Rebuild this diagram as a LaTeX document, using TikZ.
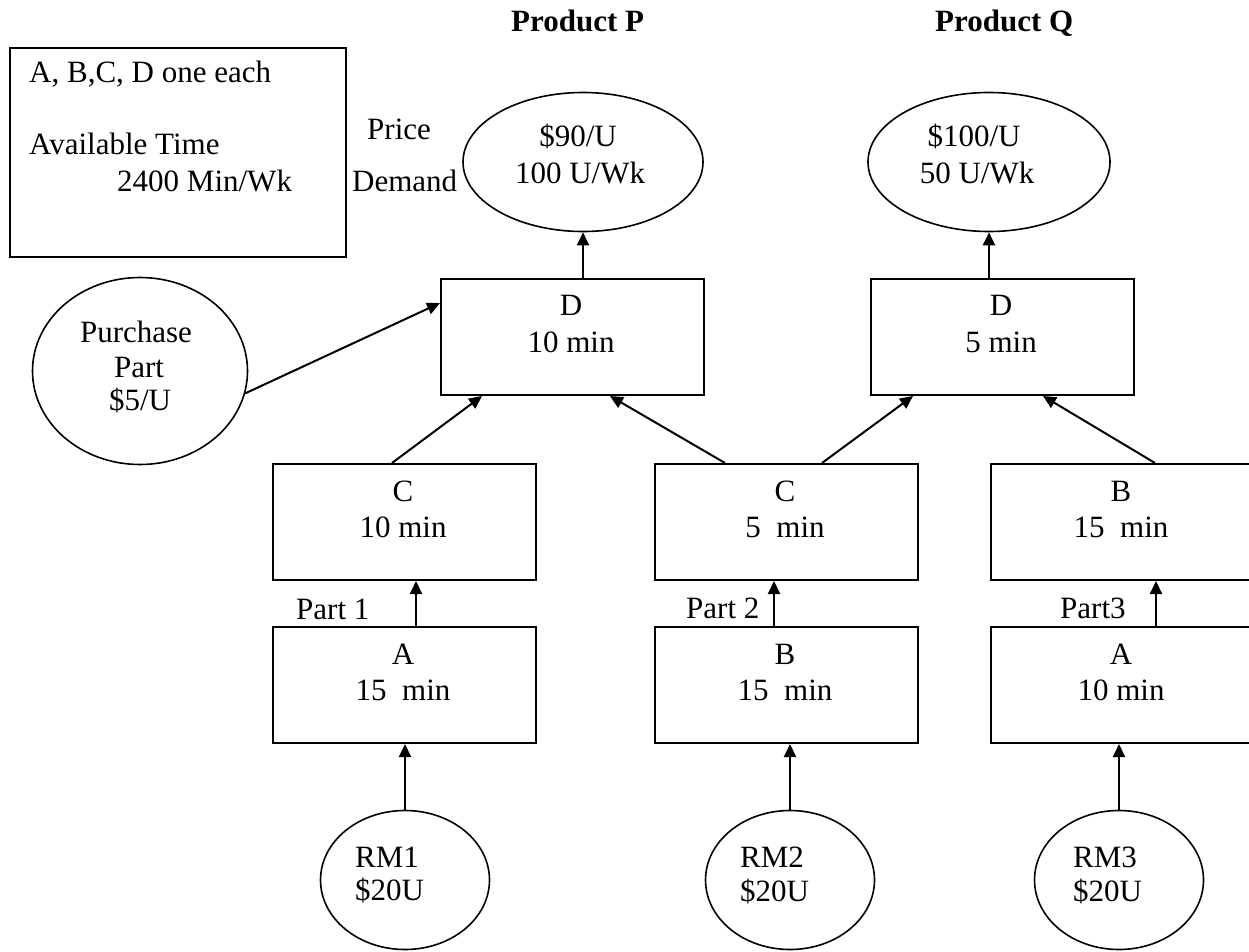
\documentclass[tikz,border=0pt]{standalone}
\usepackage{fontspec}
\setmainfont{Liberation Serif}
\usetikzlibrary{arrows.meta,shapes.geometric,calc}
\begin{document}
\begin{tikzpicture}[x=1pt,y=-1pt,
  box/.style={draw, line width=2pt, rectangle, minimum width=263pt, minimum height=116pt, inner sep=0pt, anchor=north west},
  oval/.style={draw, line width=1.6pt, ellipse, inner sep=0pt},
  txt/.style={anchor=base, inner sep=0pt, font=\fontsize{31}{36}\selectfont},
  ltxt/.style={anchor=base west, inner sep=0pt, font=\fontsize{31}{36}\selectfont},
  btxt/.style={anchor=base west, inner sep=0pt, font=\fontsize{31}{36}\selectfont\bfseries},
  arr/.style={line width=2pt, -{Triangle[length=13pt,width=12pt]}},
]
\useasboundingbox (0,0) rectangle (1249,952);
\path[clip] (0,0) rectangle (1249,952);

% titles
\node[btxt] (tP) at (511,32) {Product P};
\node[btxt] (tQ) at (935,32) {Product Q};

% info box
\node[draw, line width=2pt, rectangle, minimum width=336pt, minimum height=209pt, inner sep=0pt, anchor=north west] (info) at (9,47) {};
\node[ltxt] (i1) at (29,83) {A, B,C, D one each};
\node[ltxt] (i2) at (29,155) {Available Time};
\node[ltxt] (i3) at (117,192) {2400 Min/Wk};
\node[ltxt] (price) at (367,140) {Price};
\node[ltxt] (demand) at (352,192) {Demand};

% ellipses
\node[oval, minimum width=240pt, minimum height=139pt] (eP) at (583,162) {};
\node[txt] (eP1) at (578,147) {\$90/U};
\node[txt] (eP2) at (580,184) {100 U/Wk};
\node[oval, minimum width=242pt, minimum height=139pt] (eQ) at (989,162) {};
\node[txt] (eQ1) at (974,147) {\$100/U};
\node[txt] (eQ2) at (977,184) {50 U/Wk};
\node[oval, minimum width=215pt, minimum height=187pt] (pur) at (140,371) {};
\node[txt] (pur1) at (136,342) {Purchase};
\node[txt] (pur2) at (139,377) {Part};
\node[txt] (pur3) at (140,410) {\$5/U};
\node[oval, minimum width=169pt, minimum height=139pt] (rm1) at (405,880) {};
\node[ltxt] (rm1a) at (355,867) {RM1};
\node[ltxt] (rm1b) at (355,900) {\$20U};
\node[oval, minimum width=169pt, minimum height=139pt] (rm2) at (790,880) {};
\node[ltxt] (rm2a) at (740,867) {RM2};
\node[ltxt] (rm2b) at (740,901) {\$20U};
\node[oval, minimum width=169pt, minimum height=139pt] (rm3) at (1119,880) {};
\node[ltxt] (rm3a) at (1073,867) {RM3};
\node[ltxt] (rm3b) at (1073,901) {\$20U};

% boxes
\node[box] (dP) at (440,278) {};
\node[txt] (dP1) at (571,315) {D};
\node[txt] (dP2) at (571,352) {10 min};
\node[box] (dQ) at (870,278) {};
\node[txt] (dQ1) at (1001,315) {D};
\node[txt] (dQ2) at (1001,352) {5 min};
\node[box] (c1) at (272,463) {};
\node[txt] (c1a) at (403,501) {C};
\node[txt] (c1b) at (403,537) {10 min};
\node[box] (c2) at (654,463) {};
\node[txt] (c2a) at (785,501) {C};
\node[txt] (c2b) at (785,537) {5\ \ min};
\node[box] (bQ) at (990,463) {};
\node[txt] (bQa) at (1121,501) {B};
\node[txt] (bQb) at (1121,537) {15\ \ min};
\node[box] (a1) at (272,626) {};
\node[txt] (a1a) at (403,664) {A};
\node[txt] (a1b) at (403,700) {15\ \ min};
\node[box] (b2) at (654,626) {};
\node[txt] (b2a) at (785,664) {B};
\node[txt] (b2b) at (785,700) {15\ \ min};
\node[box] (a3) at (990,626) {};
\node[txt] (a3a) at (1121,664) {A};
\node[txt] (a3b) at (1121,700) {10 min};

% part labels
\node[ltxt] (p1) at (296,619) {Part 1};
\node[ltxt] (p2) at (686,618) {Part 2};
\node[ltxt] (p3) at (1060,618) {Part3};

% connectors
\draw[arr] (pur.-12) -- ($(dP.north west)+(0,25)$);
\draw[arr] ($(c1.north west)+(120,0)$) -- ($(dP.south west)+(42,0)$);
\draw[arr] ($(c2.north west)+(71,0)$) -- ($(dP.south west)+(170,0)$);
\draw[arr] ($(c2.north west)+(168,0)$) -- ($(dQ.south west)+(43,0)$);
\draw[arr] ($(bQ.north west)+(165,0)$) -- ($(dQ.south west)+(173,0)$);
\draw[arr] ($(dP.north west)+(143,0)$) -- (eP.south);
\draw[arr] ($(dQ.north west)+(119,0)$) -- (eQ.south);
\draw[arr] ($(a1.north west)+(144,0)$) -- ($(c1.south west)+(144,0)$);
\draw[arr] ($(b2.north west)+(120,0)$) -- ($(c2.south west)+(120,0)$);
\draw[arr] ($(a3.north west)+(166,0)$) -- ($(bQ.south west)+(166,0)$);
\draw[arr] (rm1.north) -- (rm1.north |- a1.south);
\draw[arr] (rm2.north) -- (rm2.north |- b2.south);
\draw[arr] (rm3.north) -- (rm3.north |- a3.south);
\end{tikzpicture}
\end{document}
